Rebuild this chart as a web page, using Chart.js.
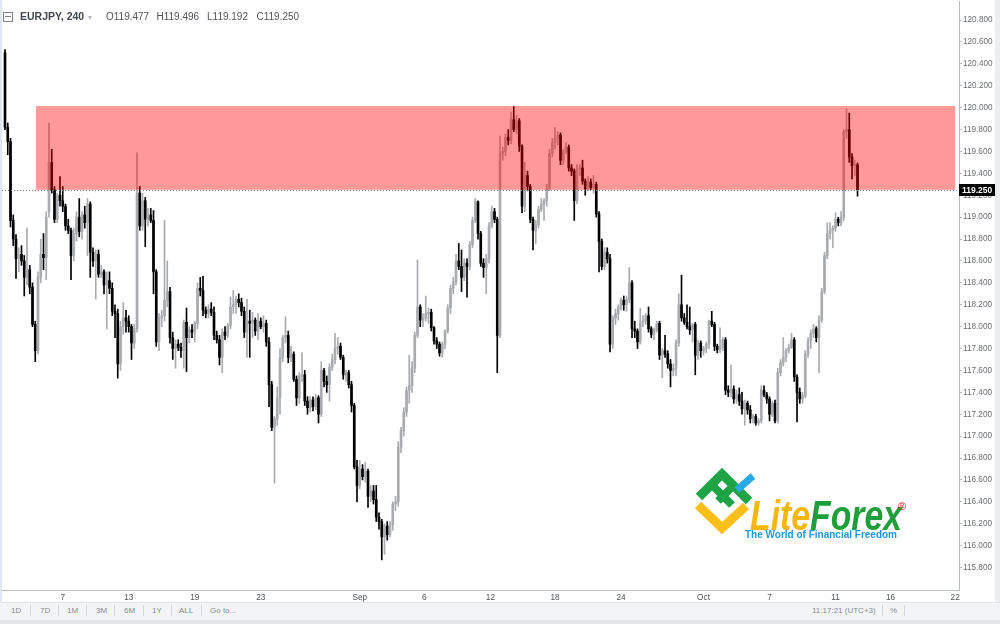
<!DOCTYPE html>
<html><head><meta charset="utf-8">
<script src="https://cdn.jsdelivr.net/npm/chart.js@4.4.1/dist/chart.umd.min.js"></script>
<style>
html,body{margin:0;padding:0;background:#fff;}
#wrap{position:relative;width:1000px;height:624px;overflow:hidden;background:#fff;font-family:Arial,"Liberation Sans",sans-serif;}
#c{position:absolute;left:0;top:0;}
.abs{position:absolute;white-space:nowrap;}
#frameL{left:0;top:0;width:2px;height:624px;background:#e3e6eb;}
#frameR{left:995px;top:0;width:5px;height:624px;background:#eceff2;}
#toolbar{left:0;top:602px;width:1000px;height:18px;background:#f3f4f6;border-top:1px solid #e2e4e8;}
#frameB{left:0;top:620px;width:1000px;height:4px;background:#e3e6eb;}
.tb{position:absolute;top:606px;font-size:8px;color:#8a8d93;}
.sep{position:absolute;top:605px;width:1px;height:11px;background:#d3d6db;}
.lg{position:absolute;top:10px;font-size:10px;color:#4f5259;line-height:13px;}
</style></head>
<body>
<div id="wrap">
<canvas id="c" width="1000" height="624"></canvas>
<div class="abs" id="frameL"></div>
<div class="abs" id="frameR"></div>
<div class="abs" id="toolbar"></div>
<div class="abs" id="frameB"></div>

<div class="abs" style="left:3px;top:12px;width:8px;height:8px;border:1px solid #7d8086;"></div>
<div class="abs" style="left:5px;top:16px;width:6px;height:1px;background:#7d8086;"></div>
<div class="lg" style="left:20px;font-weight:600;font-size:10.5px;color:#43464d;">EURJPY, 240</div>
<div class="lg" style="left:88px;font-size:8px;color:#b5b8be;top:11px;">&#9662;</div>
<div class="lg" style="left:106px;">O119.477</div>
<div class="lg" style="left:156.5px;">H119.496</div>
<div class="lg" style="left:207px;">L119.192</div>
<div class="lg" style="left:256.5px;">C119.250</div>

<div class="tb" style="left:11px;">1D</div><div class="sep" style="left:30px;"></div>
<div class="tb" style="left:40px;">7D</div><div class="sep" style="left:58px;"></div>
<div class="tb" style="left:67px;">1M</div><div class="sep" style="left:86px;"></div>
<div class="tb" style="left:96px;">3M</div><div class="sep" style="left:114px;"></div>
<div class="tb" style="left:124px;">6M</div><div class="sep" style="left:143px;"></div>
<div class="tb" style="left:152px;">1Y</div><div class="sep" style="left:171px;"></div>
<div class="tb" style="left:179px;">ALL</div><div class="sep" style="left:201px;"></div>
<div class="tb" style="left:210px;">Go to...</div>
<div class="tb" style="left:812px;">11:17:21 (UTC+3)</div><div class="sep" style="left:882px;"></div>
<div class="tb" style="left:890px;">%</div><div class="sep" style="left:904px;"></div>

<svg class="abs" style="left:690px;top:465px;" width="230" height="80" viewBox="0 0 230 80">
  <polyline points="8,40 32,63 56,41" fill="none" stroke="#fbbf17" stroke-width="9" stroke-linejoin="miter"/>
  <polyline points="9,32 32,9 59,36" fill="none" stroke="#1fa347" stroke-width="9" stroke-linejoin="miter"/>
  <line x1="22" y1="20" x2="42" y2="40" stroke="#1fa347" stroke-width="8"/>
  <line x1="28" y1="36" x2="45" y2="19" stroke="#1fa347" stroke-width="8"/>
  <line x1="47" y1="25" x2="63" y2="11" stroke="#2aa8e6" stroke-width="7"/>
  <text x="60" y="65" font-family="Liberation Sans, Arial, sans-serif" font-weight="bold" font-style="italic" font-size="42" textLength="152" lengthAdjust="spacingAndGlyphs"><tspan fill="#f6b70d">Lite</tspan><tspan fill="#1f9f3b">Forex</tspan></text>
  <text x="208" y="45" font-family="Liberation Sans, Arial, sans-serif" font-size="11" fill="#e3262b">&#174;</text>
  <text x="55" y="73" font-family="Liberation Sans, Arial, sans-serif" font-weight="bold" font-size="10.5" fill="#1c98dc" textLength="152" lengthAdjust="spacingAndGlyphs">The World of Financial Freedom</text>
</svg>
</div>

<script>
// ---- data (EURJPY, 240-minute candles) ----
const openP = [
120.50,119.82,119.69,118.97,118.80,118.62,118.66,118.60,118.45,118.52,
118.36,118.02,117.78,118.45,118.66,118.63,119.05,119.50,119.25,118.98,
119.20,119.15,119.10,118.92,118.88,118.65,118.85,119.00,118.87,119.02,
118.95,119.12,118.68,118.60,118.66,118.48,118.50,118.38,118.42,118.35,
118.14,118.12,117.66,118.00,118.08,118.05,118.00,117.85,117.98,119.22,
118.92,119.15,118.98,119.02,118.97,118.50,117.86,118.08,118.10,118.24,
118.32,117.90,117.80,117.84,117.81,117.78,118.04,117.90,117.97,117.95,
118.03,118.35,118.33,118.15,118.12,118.16,118.13,117.92,117.88,117.72,
117.95,117.92,118.01,118.18,118.20,118.25,118.22,118.14,117.95,118.05,
118.03,118.06,117.96,118.05,118.00,118.03,117.86,117.47,117.08,117.16,
117.35,117.72,117.90,117.92,117.72,117.75,117.52,117.35,117.55,117.56,
117.32,117.26,117.33,117.27,117.35,117.20,117.60,117.50,117.47,117.63,
117.70,117.80,117.82,117.72,117.56,117.58,117.47,117.28,116.72,116.55,
116.70,116.63,116.68,116.45,116.50,116.42,116.26,116.22,116.08,116.18,
116.10,116.19,116.38,116.40,116.90,117.05,117.22,117.42,117.46,117.62,
117.92,118.18,118.06,118.08,118.12,118.13,117.99,117.87,117.84,117.76,
117.84,117.96,118.17,118.35,118.41,118.60,118.55,118.45,118.58,118.55,
118.75,118.97,119.14,118.85,118.58,118.54,118.62,118.92,119.05,118.98,
117.92,119.58,119.60,119.73,119.70,119.89,119.80,119.88,119.65,119.10,
119.38,119.28,118.98,118.88,118.93,119.07,119.12,119.15,119.26,119.58,
119.68,119.72,119.75,119.52,119.60,119.64,119.45,119.42,119.15,119.44,
119.45,119.33,119.26,119.32,119.27,119.30,119.03,118.78,118.55,118.68,
118.62,117.84,118.08,118.12,118.18,118.24,118.20,118.25,118.40,117.98,
117.96,117.86,118.04,118.05,118.10,117.98,117.93,117.97,118.03,117.74,
117.78,117.75,117.66,117.60,117.62,117.85,118.20,118.08,118.04,118.00,
117.97,118.02,117.74,117.85,117.78,117.80,117.84,118.05,118.02,117.82,
117.79,117.81,117.88,117.42,117.40,117.43,117.34,117.38,117.32,117.25,
117.30,117.24,117.16,117.18,117.12,117.14,117.42,117.38,117.34,117.20,
117.30,117.14,117.58,117.67,117.72,117.78,117.81,117.88,117.54,117.40,
117.34,117.37,117.75,117.87,117.94,117.98,117.90,118.06,118.32,118.65,
118.85,118.88,118.90,118.98,118.95,119.00,119.78,119.80,119.55,119.47,
119.477];
const highP = [
120.53,119.86,119.72,119.02,118.84,118.72,118.74,118.65,118.90,118.56,
118.40,118.05,118.50,118.80,118.85,119.05,119.86,119.62,119.28,119.22,
119.37,119.28,119.12,118.98,118.90,118.90,119.05,119.17,119.05,119.10,
119.17,119.14,118.72,118.70,118.70,118.56,118.52,118.50,118.50,118.40,
118.20,118.16,118.05,118.22,118.15,118.10,118.02,118.02,119.59,119.28,
119.22,119.18,119.08,119.08,119.06,118.52,118.12,118.15,118.97,118.60,
118.36,117.95,117.88,117.88,117.85,118.06,118.17,118.00,118.02,118.05,
118.40,118.45,118.46,118.18,118.20,118.22,118.18,117.96,117.92,117.98,
118.00,118.03,118.27,118.33,118.28,118.30,118.26,118.18,118.25,118.15,
118.13,118.08,118.12,118.08,118.10,118.06,117.90,117.50,117.18,117.45,
117.80,117.92,118.09,117.96,117.82,117.77,117.55,117.58,117.76,117.60,
117.36,117.36,117.36,117.38,117.37,117.68,117.62,117.55,117.66,117.75,
117.94,117.90,117.85,117.74,117.60,117.60,117.50,117.30,116.78,116.78,
116.74,116.76,116.70,116.55,116.55,116.55,116.30,116.24,116.20,116.22,
116.22,116.40,116.45,116.95,117.08,117.26,117.45,117.74,117.68,117.95,
118.61,118.20,118.12,118.28,118.17,118.16,118.00,117.90,117.86,117.86,
117.97,118.20,118.38,118.45,118.66,118.76,118.70,118.62,118.62,118.78,
119.00,119.17,119.15,118.87,118.62,118.66,118.95,119.10,119.08,119.00,
119.74,119.64,119.76,119.80,119.96,120.01,119.93,119.90,119.66,119.50,
119.42,119.30,119.00,118.97,119.10,119.17,119.17,119.30,119.62,119.72,
119.82,119.78,119.77,119.62,119.68,119.66,119.48,119.44,119.48,119.48,
119.52,119.35,119.37,119.35,119.38,119.32,119.05,118.80,118.72,118.72,
118.66,118.10,118.16,118.20,118.26,118.28,118.28,118.54,118.42,118.05,
117.98,118.17,118.10,118.12,118.18,118.00,117.99,118.05,118.05,117.80,
117.92,117.78,117.70,117.66,117.88,118.30,118.47,118.12,118.20,118.18,
118.03,118.04,117.88,117.87,117.82,117.86,118.06,118.14,118.04,117.84,
117.99,117.90,117.90,117.46,117.65,117.46,117.42,117.44,117.40,117.33,
117.32,117.28,117.20,117.20,117.16,117.46,117.46,117.40,117.36,117.32,
117.33,117.62,117.70,117.90,117.80,117.84,117.94,117.90,117.56,117.44,
117.40,117.78,117.90,117.97,118.02,118.00,118.10,118.35,118.68,118.95,
118.95,118.92,119.04,119.00,119.05,119.80,119.99,119.95,119.58,119.52,
119.496];
const lowP = [
119.80,119.57,118.91,118.74,118.44,118.50,118.56,118.28,118.38,118.30,
118.00,117.68,117.75,118.40,118.52,118.43,119.00,119.22,118.95,118.95,
119.10,119.05,118.88,118.85,118.43,118.60,118.78,118.82,118.80,118.90,
118.65,118.45,118.55,118.25,118.45,118.45,118.30,117.98,118.30,118.10,
117.90,117.53,117.60,117.93,117.95,117.95,117.70,117.80,117.95,118.88,
118.88,118.73,118.92,118.95,118.30,117.82,117.78,118.00,118.05,118.18,
117.85,117.70,117.62,117.78,117.72,117.62,117.59,117.85,117.90,117.86,
117.98,118.28,118.10,118.08,118.08,118.10,117.88,117.85,117.65,117.58,
117.88,117.90,117.98,118.12,118.12,118.18,118.10,117.90,117.72,117.72,
117.90,117.92,117.88,117.98,117.95,117.82,117.27,117.05,116.57,117.10,
117.20,117.68,117.85,117.67,117.68,117.50,117.28,117.30,117.50,117.28,
117.20,117.22,117.23,117.24,117.12,117.18,117.45,117.40,117.32,117.60,
117.66,117.75,117.70,117.52,117.50,117.44,117.22,116.70,116.40,116.52,
116.60,116.58,116.35,116.40,116.38,116.22,116.15,115.87,115.92,116.05,
116.08,116.14,116.32,116.36,116.85,117.00,117.18,117.30,117.40,117.58,
117.90,118.00,118.00,118.05,118.03,117.96,117.84,117.80,117.73,117.72,
117.80,117.94,118.12,118.30,118.38,118.52,118.32,118.42,118.27,118.52,
118.72,118.95,118.80,118.55,118.45,118.30,118.58,118.90,118.95,117.58,
117.90,119.52,119.56,119.66,119.67,119.78,119.76,119.60,119.04,119.05,
119.24,118.95,118.70,118.76,118.90,119.05,118.97,119.10,119.24,119.55,
119.62,119.66,119.48,119.48,119.58,119.42,119.38,118.97,119.12,119.38,
119.30,119.20,119.24,119.25,119.22,119.00,118.50,118.52,118.52,118.58,
117.77,117.80,118.02,118.06,118.15,118.15,118.14,118.22,117.90,117.90,
117.80,117.84,118.00,118.02,117.95,117.90,117.88,117.95,117.70,117.53,
117.72,117.62,117.45,117.55,117.55,117.82,118.05,118.02,117.98,117.93,
117.86,117.56,117.70,117.72,117.74,117.76,117.80,118.00,117.78,117.76,
117.76,117.78,117.38,117.36,117.36,117.30,117.30,117.28,117.20,117.10,
117.20,117.12,117.12,117.10,117.10,117.12,117.36,117.30,117.14,117.18,
117.12,117.12,117.55,117.64,117.68,117.76,117.80,117.50,117.13,117.30,
117.30,117.35,117.72,117.80,117.90,117.86,117.58,118.04,118.30,118.62,
118.80,118.72,118.87,118.92,118.92,118.97,119.72,119.50,119.35,119.38,
119.192];
const closeP = [
119.82,119.69,118.97,118.80,118.62,118.66,118.60,118.45,118.52,118.36,
118.02,117.78,118.45,118.66,118.63,119.00,119.50,119.25,118.98,119.20,
119.15,119.10,118.92,118.88,118.65,118.85,119.00,118.87,119.02,118.95,
119.12,118.68,118.60,118.66,118.48,118.50,118.38,118.42,118.35,118.14,
118.12,117.66,118.00,118.08,118.05,118.00,117.85,117.98,119.22,118.92,
119.15,118.98,119.02,118.97,118.50,117.86,118.08,118.10,118.24,118.32,
117.90,117.80,117.84,117.81,117.78,118.04,117.90,117.97,117.95,118.03,
118.35,118.33,118.15,118.12,118.16,118.13,117.92,117.88,117.72,117.95,
117.92,118.01,118.18,118.20,118.25,118.22,118.14,117.95,118.05,118.03,
118.06,117.96,118.05,118.00,118.03,117.86,117.47,117.08,117.16,117.35,
117.72,117.90,117.92,117.72,117.75,117.52,117.35,117.55,117.56,117.32,
117.26,117.33,117.27,117.35,117.20,117.60,117.50,117.47,117.63,117.70,
117.80,117.82,117.72,117.56,117.58,117.47,117.28,116.72,116.55,116.70,
116.63,116.68,116.45,116.50,116.42,116.26,116.22,116.08,116.18,116.10,
116.19,116.38,116.40,116.90,117.05,117.22,117.42,117.46,117.62,117.92,
118.18,118.06,118.08,118.12,118.13,117.99,117.87,117.84,117.76,117.84,
117.96,118.17,118.35,118.41,118.60,118.55,118.45,118.58,118.55,118.75,
118.97,119.14,118.85,118.58,118.54,118.62,118.92,119.05,118.98,117.92,
119.58,119.60,119.73,119.70,119.89,119.80,119.88,119.65,119.10,119.38,
119.28,118.98,118.88,118.93,119.07,119.12,119.15,119.26,119.58,119.68,
119.72,119.75,119.52,119.60,119.64,119.45,119.42,119.15,119.44,119.45,
119.33,119.26,119.32,119.27,119.30,119.03,118.78,118.55,118.68,118.62,
117.84,118.08,118.12,118.18,118.24,118.20,118.25,118.40,117.98,117.96,
117.86,118.04,118.05,118.10,117.98,117.93,117.97,118.03,117.74,117.78,
117.75,117.66,117.60,117.62,117.85,118.20,118.08,118.04,118.00,117.97,
118.02,117.74,117.85,117.78,117.80,117.84,118.05,118.02,117.82,117.79,
117.81,117.88,117.42,117.40,117.43,117.34,117.38,117.32,117.25,117.30,
117.24,117.16,117.18,117.12,117.14,117.42,117.38,117.34,117.20,117.30,
117.14,117.58,117.67,117.72,117.78,117.81,117.88,117.54,117.40,117.34,
117.37,117.75,117.87,117.94,117.98,117.90,118.06,118.32,118.65,118.85,
118.88,118.90,118.98,118.95,119.00,119.78,119.80,119.55,119.47,119.477,
119.25];

// time axis: bar-index positions of the date labels, and their text
const timeTickPos  = [21, 45, 69, 93, 129, 152.5, 176.5, 200, 224, 254, 278, 302, 322, 345.5];
const timeTickText = ['7','13','19','23','Sep','6','12','18','24','Oct','7','11','16','22'];
// price axis labels
const priceTicks = [120.8,120.6,120.4,120.2,120.0,119.8,119.6,119.4,119.2,119.0,118.8,118.6,118.4,118.2,
                    118.0,117.8,117.6,117.4,117.2,117.0,116.8,116.6,116.4,116.2,116.0,115.8];
// resistance zone (price range and bar-index span) and last price
const zoneHigh = 120.015, zoneLow = 119.25, zoneFrom = 11.3, zoneTo = 345.5;
const lastPrice = 119.25;

// ---- rendering ----
const UP = '#a9abaf', DOWN = '#000000';
const barColors = openP.map((o, i) => closeP[i] >= o ? UP : DOWN);
const wickData = openP.map((o, i) => ({x: i, y: [lowP[i], highP[i]]}));
const bodyData = openP.map((o, i) => ({x: i, y: [o, closeP[i]]}));

const overlay = {
  id: 'overlay',
  afterDatasetsDraw(chart) {
    const {ctx, chartArea: a, scales: {x, y}} = chart;
    ctx.save();
    ctx.beginPath(); ctx.rect(a.left, a.top, a.right - a.left, a.bottom - a.top); ctx.clip();
    const ly = Math.round(y.getPixelForValue(lastPrice)) + 0.5;
    ctx.strokeStyle = '#7a7d84'; ctx.lineWidth = 1; ctx.setLineDash([1, 2]);
    ctx.beginPath(); ctx.moveTo(a.left, ly); ctx.lineTo(a.right, ly); ctx.stroke();
    ctx.setLineDash([]);
    const x0 = x.getPixelForValue(zoneFrom), x1 = x.getPixelForValue(zoneTo);
    const y0 = y.getPixelForValue(zoneHigh), y1 = y.getPixelForValue(zoneLow);
    ctx.fillStyle = 'rgba(255,0,0,0.4)';
    ctx.fillRect(x0, y0, x1 - x0, y1 - y0);
    ctx.restore();
  },
  afterDraw(chart) {
    const {ctx, chartArea: a, scales: {y}} = chart;
    const ly = Math.round(y.getPixelForValue(lastPrice));
    ctx.save();
    ctx.fillStyle = '#000';
    ctx.fillRect(a.right, ly - 6, 36, 12);
    ctx.fillStyle = '#fff';
    ctx.font = 'bold 8.5px Arial, "Liberation Sans", sans-serif';
    ctx.textBaseline = 'middle';
    ctx.fillText(lastPrice.toFixed(3), a.right + 3, ly + 0.5);
    ctx.restore();
  }
};

new Chart(document.getElementById('c'), {
  type: 'bar',
  data: {
    datasets: [
      {data: bodyData, backgroundColor: barColors, barThickness: 2, minBarLength: 1, grouped: false, order: 0},
      {data: wickData, backgroundColor: barColors, barThickness: 1, grouped: false, order: 1}
    ]
  },
  options: {
    responsive: false, animation: false, devicePixelRatio: 1,
    layout: {padding: {left: 2, right: 5, top: 1, bottom: 22}},
    plugins: {legend: {display: false}, tooltip: {enabled: false}},
    scales: {
      x: {
        type: 'linear', min: -1.09, max: 346.9, offset: false,
        afterBuildTicks(s) { s.ticks = timeTickPos.map(v => ({value: v})); },
        afterFit(s) { s.height = 12; s.paddingLeft = 0; s.paddingRight = 0; },
        grid: {display: false, drawTicks: true, tickLength: 3, offset: false},
        border: {display: true, color: '#b8bbc1'},
        ticks: {autoSkip: false, maxRotation: 0, padding: 0, color: '#50535a',
                font: {size: 8.3, family: 'Arial, "Liberation Sans", sans-serif'},
                callback: (v, i) => timeTickText[i]}
      },
      y: {
        position: 'right', min: 115.595, max: 120.974,
        afterBuildTicks(s) { s.ticks = priceTicks.map(v => ({value: v})); },
        afterFit(s) { s.width = 36; s.paddingTop = 0; s.paddingBottom = 0; },
        grid: {drawOnChartArea: false, tickLength: 3, color: '#b8bbc1', offset: false},
        border: {display: true, color: '#b8bbc1'},
        ticks: {padding: 1, color: '#6a6d73', font: {size: 8.2, family: 'Arial, "Liberation Sans", sans-serif'},
                callback: v => Number(v).toFixed(3)}
      }
    }
  },
  plugins: [overlay]
});
</script>
</body></html>
